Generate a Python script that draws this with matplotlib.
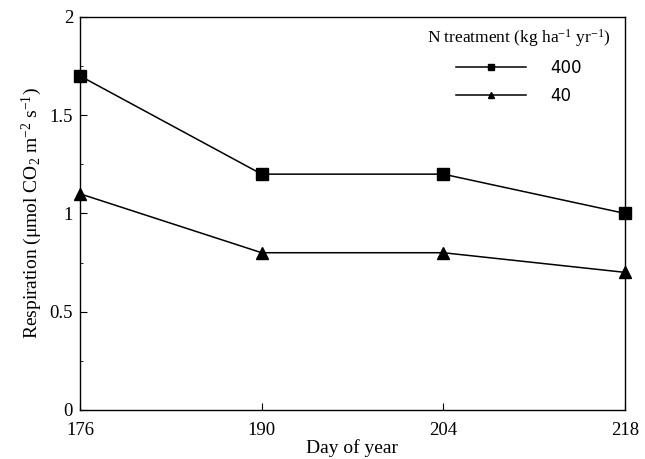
import matplotlib
matplotlib.use('Agg')
import matplotlib.pyplot as plt
from matplotlib.ticker import MultipleLocator

plt.rcParams['font.family'] = ['Liberation Serif', 'DejaVu Serif']
plt.rcParams['mathtext.fontset'] = 'custom'
plt.rcParams['mathtext.rm'] = 'Liberation Serif'
plt.rcParams['mathtext.it'] = 'Liberation Serif:italic'

# datos
dias = [176, 190, 204, 218]
n400 = [1.7, 1.2, 1.2, 1.0]
n40 = [1.1, 0.8, 0.8, 0.7]
etiquetas_x = ['176', '190', '204', '218']

fig = plt.figure(figsize=(6.45, 4.59), dpi=100)
ax = fig.add_axes([0.124, 0.107, 0.845, 0.856])

ax.plot(dias, n400, color='black', lw=1.1, marker='s', ms=8, label='400', clip_on=False, zorder=3)
ax.plot(dias, n40, color='black', lw=1.1, marker='^', ms=8, label='40', clip_on=False, zorder=3)

ax.set_xlim(176, 218)
ax.set_ylim(0, 2)
ax.set_xticks(dias)
ax.set_xticklabels(etiquetas_x)
ax.set_yticks([0, 0.5, 1, 1.5, 2])
ax.set_yticklabels(['0', '0.5', '1', '1.5', '2'])
ax.yaxis.set_minor_locator(MultipleLocator(0.25))
ax.tick_params(direction='in', labelsize=13.5, length=5)
ax.tick_params(which='minor', direction='in', length=2)
ax.tick_params(axis='x', pad=9)
ax.tick_params(axis='y', pad=5)

ax.set_xlabel('Day of year', fontsize=14, labelpad=0)
ax.set_ylabel(r'Respiration ($\mathrm{\mu}$mol CO$_2$ m$^{-2}$ s$^{-1}$)', fontsize=14)

leg = ax.legend(title=r'N treatment (kg ha$^{-1}$ yr$^{-1}$)', loc='upper right',
                frameon=False, fontsize=12, markerscale=0.55, handlelength=4.2,
                handletextpad=1.5, title_fontsize=12.5, borderaxespad=0.3,
                labelspacing=0.6, bbox_to_anchor=(0.995, 1.005))
for t in leg.get_texts():
    t.set_family('DejaVu Sans')

for s in ax.spines.values():
    s.set_linewidth(1.0)

fig.savefig('out.png', dpi=100)
